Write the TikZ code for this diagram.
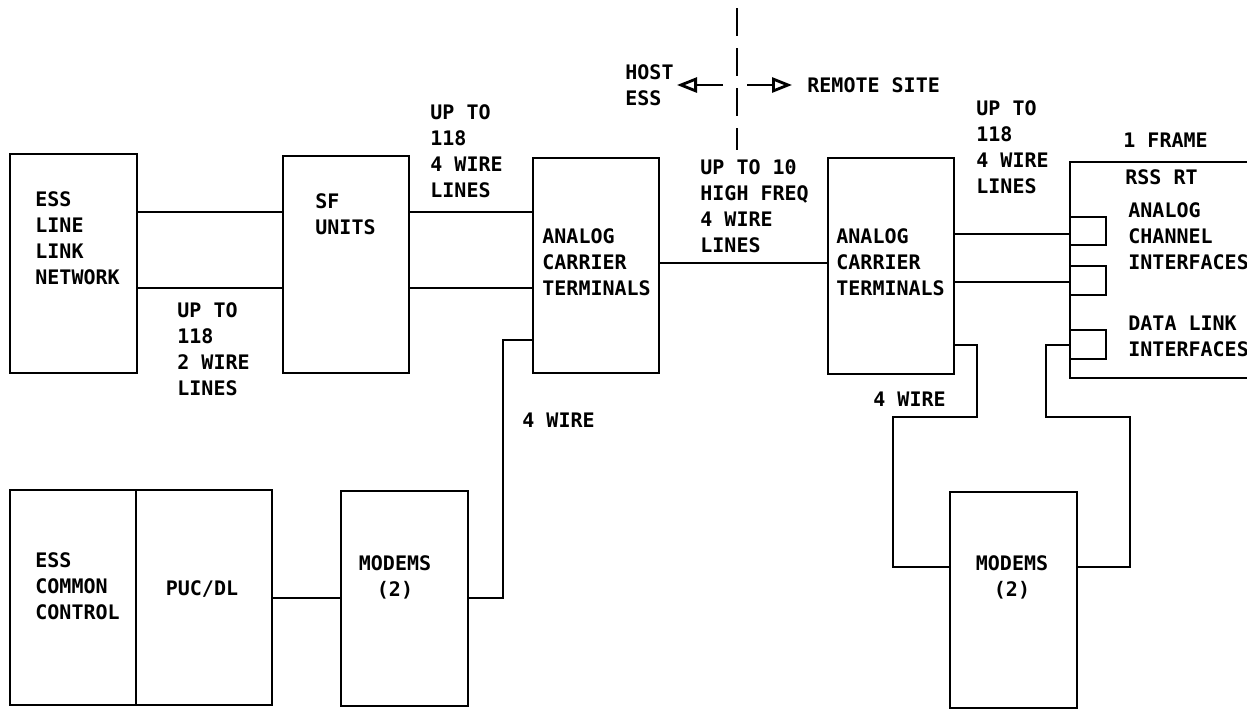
\documentclass[tikz,border=0pt]{standalone}
\usepackage{fontspec}
\setmainfont{DejaVu Sans Mono}
\usepackage{tikz}
\usetikzlibrary{arrows.meta}

\tikzset{
  blk/.style={draw,line width=1pt,inner sep=0pt,anchor=north west},
  txt/.style={inner sep=0pt,align=left,anchor=base west,
    font=\fontsize{10}{13}\selectfont\bfseries},
  ctxt/.style={txt,align=center,anchor=base},
  wire/.style={line width=1pt},
  sidearr/.style={line width=1.3pt,-{Triangle[open,length=10pt,width=7.5pt,line width=1.4pt]}}
}

\begin{document}
\begin{tikzpicture}[x=0.5pt,y=-0.5pt]
  \useasboundingbox (0,0) rectangle (1247,708);
  % bloques lado host
  \node[blk,minimum width=63.5pt,minimum height=109.5pt] (lln) at (9,153) {};
  \node[blk,minimum width=63pt,minimum height=108.5pt] (sfu) at (282,155) {};
  \node[blk,minimum width=63pt,minimum height=107.5pt] (actA) at (532,157) {};
  \node[blk,minimum width=63pt,minimum height=107.5pt] (ecc) at (9,489) {};
  \node[blk,minimum width=68pt,minimum height=107.5pt] (puc) at (135,489) {};
  \node[blk,minimum width=63.5pt,minimum height=107.5pt] (modA) at (340,490) {};
  % bloques lado remoto
  \node[blk,minimum width=63pt,minimum height=108pt] (actB) at (827,157) {};
  \node[blk,minimum width=96.5pt,minimum height=108pt] (rss) at (1069,161) {};
  \node[blk,minimum width=18pt,minimum height=14pt] (sqA) at (1069,216) {};
  \node[blk,minimum width=18pt,minimum height=14.5pt] (sqB) at (1069,265) {};
  \node[blk,minimum width=18pt,minimum height=14.5pt] (sqC) at (1069,329) {};
  \node[blk,minimum width=63.5pt,minimum height=108pt] (modB) at (949,491) {};

  % filas y columnas de los cables
  \coordinate (rA) at (0,212);   \coordinate (rB) at (0,287.5);
  \coordinate (rC) at (0,263);   \coordinate (rD) at (0,234);
  \coordinate (rE) at (0,282);   \coordinate (rF) at (0,598);
  \coordinate (rG) at (0,340);   \coordinate (rH) at (0,345);
  \coordinate (rI) at (0,417);   \coordinate (rJ) at (0,566.5);
  \coordinate (cA) at (503,0);   \coordinate (cB) at (977,0);
  \coordinate (cC) at (893,0);   \coordinate (cD) at (1130,0);
  \coordinate (cE) at (1046,0);

  % cables
  \draw[wire] (lln.east |- rA) -- (sfu.west |- rA);
  \draw[wire] (lln.east |- rB) -- (sfu.west |- rB);
  \draw[wire] (sfu.east |- rA) -- (actA.west |- rA);
  \draw[wire] (sfu.east |- rB) -- (actA.west |- rB);
  \draw[wire] (actA.east |- rC) -- (actB.west |- rC);
  \draw[wire] (actB.east |- rD) -- (rss.west |- rD);
  \draw[wire] (actB.east |- rE) -- (rss.west |- rE);
  \draw[wire] (puc.east |- rF) -- (modA.west |- rF);
  \draw[wire] (modA.east |- rF) -| (cA |- rG) -- (actA.west |- rG);
  \draw[wire] (actB.east |- rH) -| (cB |- rI) -| (cC |- rJ) -- (modB.west |- rJ);
  \draw[wire] (modB.east |- rJ) -| (cD |- rI) -| (cE |- rH) -- (rss.west |- rH);

  % division host / remoto
  \coordinate (divT) at (737,8);
  \coordinate (divB) at (737,150);
  \draw[line width=1.3pt,dash pattern=on 14pt off 6pt] (divT) -- (divB);
  \coordinate (hostS) at (723,85);  \coordinate (hostE) at (677,85);
  \coordinate (remS) at (747,85);   \coordinate (remE) at (792,85);
  \draw[sidearr] (hostS) -- (hostE);
  \draw[sidearr] (remS) -- (remE);

  % textos (anclados en la linea base de la ultima linea)
  \node[txt] (tHost) at (625,105) {HOST\\ESS};
  \node[txt] (tRem) at (807,92) {REMOTE SITE};
  \node[txt] (tLln) at (35,284) {ESS\\LINE\\LINK\\NETWORK};
  \node[txt] (tSfu) at (315,234) {SF\\UNITS};
  \node[txt] (tUpA) at (430,197) {UP TO\\118\\4 WIRE\\LINES};
  \node[txt] (tUpB) at (177,395) {UP TO\\118\\2 WIRE\\LINES};
  \node[txt] (tActA) at (542,295) {ANALOG\\CARRIER\\TERMINALS};
  \node[txt] (tHf) at (700,252) {UP TO 10\\HIGH FREQ\\4 WIRE\\LINES};
  \node[txt] (tActB) at (836,295) {ANALOG\\CARRIER\\TERMINALS};
  \node[txt] (tUpC) at (976,193) {UP TO\\118\\4 WIRE\\LINES};
  \node[txt] (tFrame) at (1123,147) {1 FRAME};
  \node[txt] (tRss) at (1125,184) {RSS RT};
  \node[txt] (tAci) at (1128,269) {ANALOG\\CHANNEL\\INTERFACES};
  \node[txt] (tDli) at (1128,356) {DATA LINK\\INTERFACES};
  \node[txt] (tWireA) at (522,427) {4 WIRE};
  \node[txt] (tWireB) at (873,406) {4 WIRE};
  \node[txt] (tEcc) at (35,619) {ESS\\COMMON\\CONTROL};
  \node[ctxt] (tPuc) at (202,595) {PUC/DL};
  \node[ctxt] (tModA) at (395,596) {MODEMS\\(2)};
  \node[ctxt] (tModB) at (1012,596) {MODEMS\\(2)};
\end{tikzpicture}
\end{document}
